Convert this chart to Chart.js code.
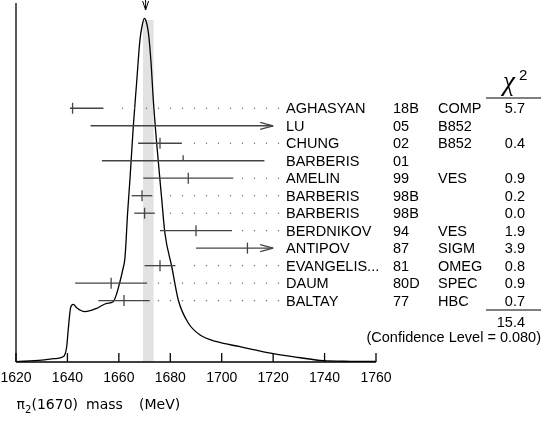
<!DOCTYPE html>
<html>
<head>
<meta charset="utf-8">
<script src="https://cdn.jsdelivr.net/npm/chart.js@4.4.1/dist/chart.umd.min.js"></script>
<style>
  html, body { margin: 0; padding: 0; background: #fff; }
  #wrap { width: 548px; height: 424px; position: relative; }
</style>
</head>
<body>
<div id="wrap"><canvas id="chart"></canvas></div>
<script>
// x axis ticks (MeV)
const massTicks = [1620, 1640, 1660, 1680, 1700, 1720, 1740, 1760];

// measurements, top to bottom
const names = ["AGHASYAN", "LU", "CHUNG", "BARBERIS", "AMELIN", "BARBERIS", "BARBERIS",
  "BERDNIKOV", "ANTIPOV", "EVANGELIS...", "DAUM", "BALTAY"];
const years = ["18B", "05", "02", "01", "99", "98B", "98B", "94", "87", "81", "80D", "77"];
const experiments = ["COMP", "B852", "B852", "", "VES", "", "", "VES", "SIGM", "OMEG", "SPEC", "HBC"];
const chi2 = ["5.7", "", "0.4", "", "0.9", "0.2", "0.0", "1.9", "3.9", "0.8", "0.9", "0.7"];
const massValue = [1642, 1749, 1676, 1685, 1687, 1669, 1670, 1690, 1710, 1676, 1657, 1662];
const errMinus = [1, 100, 8.5, 31.6, 17.5, 4, 4, 14, 20, 6, 14, 10];
const errPlus = [12, 100, 8.5, 31.6, 17.5, 4, 4, 14, 20, 6, 14, 10];

const chi2Total = "15.4";
const confidenceLevel = "0.080";

// weighted average and its error band
const averageMass = 1670.4;
const averageBand = [1669.4, 1673.5];

// ideogram curve (arbitrary height units)
const curveMass = [1620, 1630, 1635, 1638.5, 1639.7, 1640.3, 1641.3, 1642.3, 1643.7, 1646.8,
  1651.4, 1655.3, 1657.8, 1659.2, 1660.4, 1661.5, 1662.4, 1663.4, 1664.3, 1665.6, 1666.9,
  1668.2, 1669.1, 1669.9, 1670.7, 1671.5, 1672.5, 1673.4, 1674.7, 1676.7, 1677.9, 1680.6,
  1683.1, 1687.0, 1691.6, 1698.1, 1707.1, 1720.1, 1730, 1739.5, 1750, 1760];
const curveHeight = [0.3, 1.8, 3.3, 5.5, 15, 32, 55, 57.7, 54, 50.3,
  53.7, 58.7, 60.3, 68.7, 80, 92, 105, 149, 182, 235, 279,
  322, 337, 343.7, 340, 329, 300, 262, 219, 162, 129, 95,
  62, 39, 27, 20.3, 15.3, 8.3, 4.5, 1.3, 0.7, 0.5];

const arrowLimit = 1720;   // bars reaching past this are cut with an arrow
const barColor = "#444";
const textFont = '14.5px "Liberation Sans", Arial, sans-serif';

function line(ctx, x1, y1, x2, y2) {
  ctx.beginPath();
  ctx.moveTo(x1, y1);
  ctx.lineTo(x2, y2);
  ctx.stroke();
}

const ideogramDecor = {
  id: "ideogramDecor",
  beforeDatasetsDraw(chart) {
    const { ctx, scales: { x, y } } = chart;
    ctx.save();
    ctx.fillStyle = "#e2e2e2";
    const x0 = x.getPixelForValue(averageBand[0]);
    const x1 = x.getPixelForValue(averageBand[1]);
    const yt = y.getPixelForValue(342);
    ctx.fillRect(x0, yt, x1 - x0, y.getPixelForValue(0) - yt);
    ctx.restore();
  },
  afterDatasetsDraw(chart) {
    const { ctx, scales: { x, yRow } } = chart;
    ctx.save();
    names.forEach((name, i) => {
      const yp = yRow.getPixelForValue(i);
      const used = chi2[i] !== "";
      const lo = massValue[i] - errMinus[i];
      const hi = massValue[i] + errPlus[i];
      const clipped = hi > arrowLimit;
      const xl = x.getPixelForValue(lo);
      const xr = x.getPixelForValue(Math.min(hi, arrowLimit));

      ctx.strokeStyle = barColor;
      ctx.lineWidth = 1.3;
      line(ctx, xl, yp, xr, yp);
      if (clipped) {
        line(ctx, xr - 13, yp - 3.5, xr, yp);
        line(ctx, xr - 13, yp + 3.5, xr, yp);
      }
      if (massValue[i] <= arrowLimit) {
        const xc = x.getPixelForValue(massValue[i]);
        if (used) line(ctx, xc, yp - 5.5, xc, yp + 5.5);
        else line(ctx, xc, yp - 5.5, xc, yp);
      }

      // dotted leader to the labels
      if (used) {
        ctx.fillStyle = "#666";
        for (let d = 2.5; d <= 279; d += 12) {
          if (d > xr + 8) ctx.fillRect(d - 0.6, yp - 0.6, 1.2, 1.2);
        }
      }
    });
    ctx.restore();
  },
  afterDraw(chart) {
    const { ctx, chartArea, scales: { x, yRow } } = chart;
    ctx.save();
    ctx.strokeStyle = "#000";
    ctx.lineWidth = 1.3;

    // axes
    line(ctx, chartArea.left, chartArea.top, chartArea.left, chartArea.bottom);
    line(ctx, chartArea.left, chartArea.bottom, chartArea.right, chartArea.bottom);
    ctx.fillStyle = "#000";
    ctx.font = '14px "Liberation Sans", Arial, sans-serif';
    ctx.textAlign = "center";
    ctx.textBaseline = "middle";
    massTicks.forEach(t => {
      const xp = x.getPixelForValue(t);
      line(ctx, xp, chartArea.bottom, xp, chartArea.bottom - 9);
      ctx.fillText(String(t), xp, chartArea.bottom + 16);
    });

    // arrow marking the average
    const xa = x.getPixelForValue(averageMass);
    ctx.lineWidth = 1;
    line(ctx, xa, 0, xa, 10);
    line(ctx, xa - 3, 1, xa, 10);
    line(ctx, xa + 3, 1, xa, 10);

    // labels
    ctx.font = textFont;
    ctx.textBaseline = "alphabetic";
    names.forEach((name, i) => {
      const yb = yRow.getPixelForValue(i) + 5;
      ctx.textAlign = "left";
      ctx.fillText(name, 286, yb);
      ctx.fillText(years[i], 393, yb);
      ctx.fillText(experiments[i], 438, yb);
      ctx.textAlign = "right";
      ctx.fillText(chi2[i], 525, yb);
    });

    // chi2 header
    ctx.textAlign = "center";
    ctx.font = 'italic 27px "Liberation Serif", "DejaVu Serif", serif';
    ctx.fillText("\u03c7", 509, 90);
    ctx.textAlign = "left";
    ctx.font = '15px "Liberation Sans", Arial, sans-serif';
    ctx.fillText("2", 519, 80);
    ctx.lineWidth = 1.2;
    line(ctx, 486, 98, 541, 98);

    // total
    line(ctx, 486, 310, 541, 310);
    ctx.font = textFont;
    ctx.textAlign = "right";
    ctx.fillText(chi2Total, 525, 327);
    ctx.fillText("(Confidence Level = " + confidenceLevel + ")", 541, 342);

    // axis title
    ctx.textAlign = "left";
    ctx.font = '14px "DejaVu Sans", sans-serif';
    ctx.fillText("\u03c0", 16.5, 409);
    ctx.font = '10px "DejaVu Sans", sans-serif';
    ctx.fillText("2", 25, 412.5);
    ctx.font = '14px "DejaVu Sans", sans-serif';
    ctx.fillText("(1670)", 31.5, 409);
    ctx.fillText("mass", 86, 409);
    ctx.fillText("(MeV)", 139, 409);
    ctx.restore();
  }
};

const ctx = document.getElementById("chart").getContext("2d");
new Chart(ctx, {
  type: "line",
  data: {
    datasets: [{
      label: "ideogram",
      data: curveMass.map((m, i) => ({ x: m, y: curveHeight[i] })),
      borderColor: "#000",
      borderWidth: 1.3,
      pointRadius: 0,
      fill: false,
      cubicInterpolationMode: "monotone",
      yAxisID: "y",
    }],
  },
  options: {
    responsive: true,
    maintainAspectRatio: false,
    animation: false,
    devicePixelRatio: 1,
    layout: { padding: { left: 16, right: 172, top: 3, bottom: 0 } },
    plugins: {
      legend: { display: false },
      tooltip: { enabled: false },
    },
    scales: {
      x: {
        type: "linear",
        min: 1620,
        max: 1760,
        afterFit: (scale) => { scale.height = 62; },
        ticks: { display: false },
        grid: { display: false, drawTicks: false },
        border: { display: false },
      },
      y: { type: "linear", min: 0, max: 359, display: false },
      yRow: { type: "linear", min: -6.02, max: 14.51, reverse: true, display: false },
    },
  },
  plugins: [ideogramDecor],
});
</script>
</body>
</html>
